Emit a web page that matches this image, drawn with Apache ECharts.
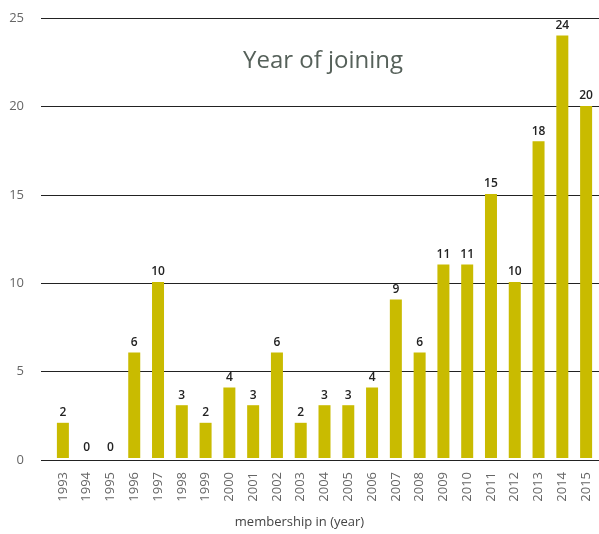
<!DOCTYPE html>
<html>
<head>
<meta charset="utf-8">
<script src="https://cdn.jsdelivr.net/npm/echarts@6/dist/echarts.min.js"></script>
<style>
	html, body { margin: 0; padding: 0; background: #fff; }
	#show { width: 599px; height: 534px; }
</style>
</head>
<body>
<div id="show"></div>
<script>
// years on the x axis
var years = ['1993', '1994', '1995', '1996', '1997', '1998', '1999', '2000', '2001', '2002', '2003', '2004',
	'2005', '2006', '2007', '2008', '2009', '2010', '2011', '2012', '2013', '2014', '2015'];
// members joining per year
var members = [2, 0, 0, 6, 10, 3, 2, 4, 3, 6, 2, 3, 3, 4, 9, 6, 11, 11, 15, 10, 18, 24, 20];
// y axis ticks
var yMin = 0, yMax = 25, yStep = 5;

var myEchart = echarts.init(document.getElementById('show'));
var font = '"Open Sans", "Noto Sans", sans-serif';

var option = {
	animation: false,
	title: {
		text: 'Year of joining',
		left: 238,
		top: 44,
		textStyle: { color: '#56615a', fontSize: 24, fontWeight: 'normal', fontFamily: font }
	},
	// grid 0 carries the gridlines, grid 1 the bars
	grid: [
		{ left: 41, right: 0, top: 18, bottom: 74 },
		{ left: 51, right: 1, top: 18, bottom: 74 }
	],
	xAxis: [{
		gridIndex: 0,
		type: 'value',
		show: false
	}, {
		gridIndex: 1,
		type: 'category',
		data: years,
		name: 'membership in (year)',
		nameLocation: 'middle',
		nameGap: 58,
		nameTextStyle: { color: '#444', fontSize: 13, fontFamily: font, padding: [0, 50, 0, 0] },
		axisLine: { show: false },
		axisTick: { show: false },
		axisLabel: { rotate: 90, interval: 0, margin: 14, color: '#666', fontSize: 13, fontFamily: font }
	}],
	yAxis: [{
		gridIndex: 0,
		type: 'value',
		min: yMin,
		max: yMax,
		interval: yStep,
		axisLine: { show: false },
		axisTick: { show: false },
		axisLabel: { margin: 17, color: '#666', fontSize: 13, fontFamily: font },
		splitLine: { lineStyle: { color: '#222', width: 1 } }
	}, {
		gridIndex: 1,
		type: 'value',
		min: yMin,
		max: yMax,
		interval: yStep,
		show: false,
		splitLine: { show: false }
	}],
	series: [{
		type: 'bar',
		xAxisIndex: 1,
		yAxisIndex: 1,
		data: members,
		barWidth: 12,
		itemStyle: { color: '#c9bb00' },
		label: {
			show: true,
			position: 'top',
			distance: 4,
			color: '#222',
			fontSize: 12,
			fontWeight: 600,
			fontFamily: font
		}
	}]
};

myEchart.setOption(option);
</script>
</body>
</html>
